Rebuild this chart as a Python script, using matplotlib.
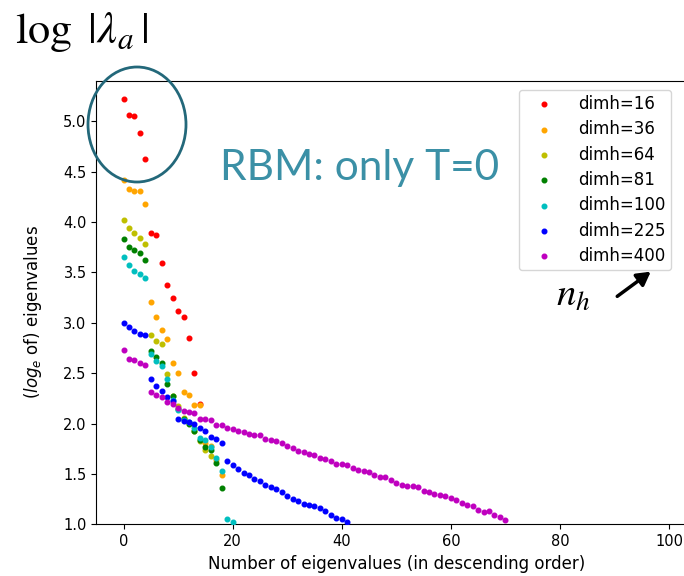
import numpy as np
import matplotlib
matplotlib.use("Agg")
import matplotlib.pyplot as plt
from matplotlib.patches import Ellipse, FancyArrowPatch

# eigenvalues (log_e), descending, one list per hidden-layer size
dimh_labels = ["dimh=16", "dimh=36", "dimh=64", "dimh=81", "dimh=100", "dimh=225", "dimh=400"]
colors = ["r", "orange", "y", "g", "c", "b", "m"]

ev16 = [5.22, 5.06, 5.05, 4.88, 4.63, 3.89, 3.87, 3.59, 3.38, 3.25, 3.12, 3.06, 2.85, 2.50, 2.19]
ev36 = [4.42, 4.33, 4.31, 4.31, 4.18, 3.21, 3.06, 2.93, 2.84, 2.60, 2.50, 2.31, 2.28, 2.18,
        2.18, 1.81, 1.78, 1.64, 1.49]
ev64 = [4.02, 3.94, 3.89, 3.84, 3.78, 2.88, 2.82, 2.79, 2.49, 2.27, 2.17, 2.06, 2.01, 1.93,
        1.83, 1.74, 1.68]
ev81 = [3.83, 3.75, 3.72, 3.69, 3.62, 2.72, 2.66, 2.60, 2.39, 2.27, 2.14, 2.05, 2.00, 1.93,
        1.84, 1.77, 1.74, 1.61, 1.36]
ev100 = [3.65, 3.57, 3.51, 3.48, 3.44, 2.69, 2.62, 2.57, 2.44, 2.23, 2.13, 2.04, 2.02, 1.96,
         1.86, 1.84, 1.77, 1.66, 1.53, 1.05, 1.02]
ev225 = [3.00, 2.96, 2.92, 2.89, 2.88, 2.44, 2.37, 2.32, 2.26, 2.22, 2.05, 2.03, 2.02, 2.00,
         1.96, 1.93, 1.87, 1.85, 1.81, 1.63, 1.59, 1.55, 1.51, 1.49, 1.45, 1.43, 1.39, 1.37,
         1.35, 1.32, 1.28, 1.25, 1.23, 1.20, 1.19, 1.18, 1.16, 1.13, 1.09, 1.06, 1.05, 1.02]
ev400 = [2.73, 2.64, 2.63, 2.60, 2.58, 2.31, 2.28, 2.26, 2.21, 2.19, 2.15, 2.12, 2.11, 2.10,
         2.05, 2.05, 2.04, 1.99, 1.99, 1.96, 1.95, 1.93, 1.92, 1.90, 1.89, 1.89, 1.85, 1.84,
         1.83, 1.81, 1.78, 1.76, 1.73, 1.72, 1.70, 1.69, 1.66, 1.65, 1.63, 1.60, 1.60, 1.59,
         1.56, 1.54, 1.53, 1.52, 1.49, 1.47, 1.47, 1.44, 1.41, 1.39, 1.38, 1.38, 1.37, 1.33,
         1.32, 1.30, 1.29, 1.28, 1.26, 1.24, 1.21, 1.19, 1.18, 1.14, 1.12, 1.13, 1.09, 1.07,
         1.04]
series = [ev16, ev36, ev64, ev81, ev100, ev225, ev400]

fig = plt.figure(figsize=(6.84, 5.76), dpi=100)
# axes run past the right edge (reference is cropped there)
ax = fig.add_axes([96.3 / 684, 51.7 / 576, 600 / 684, 443.3 / 576])

for ev, c, lab in zip(series, colors, dimh_labels):
    ax.scatter(np.arange(len(ev)), ev, s=11, color=c, label=lab, zorder=3)

ax.set_xlim(-5, 105)
ax.set_ylim(1.0, 5.4)
ax.set_xticks([0, 20, 40, 60, 80, 100])
ax.set_yticks(np.arange(1.0, 5.01, 0.5))
ax.tick_params(labelsize=10.5)
ax.set_xlabel("Number of eigenvalues (in descending order)", fontsize=12)
ax.set_ylabel("($log_e$ of) eigenvalues", fontsize=12)
ax.yaxis.set_label_coords(-0.087, 0.48)
ax.legend(loc="upper right", bbox_to_anchor=(0.958, 0.98), borderaxespad=0,
          fontsize=12, borderpad=0.3, handlelength=2.4, handletextpad=0.9,
          labelspacing=0.44)

# slide annotations
fig.text(15 / 684, 1 - 43 / 576, r"$\log\ |\lambda_a\,|$", fontsize=32,
         math_fontfamily="stix", va="baseline")
fig.text(220 / 684, 1 - 180 / 576, "RBM: only T=0", fontsize=30.5, family="Lato",
         color="#3B90A6", va="baseline")
fig.add_artist(Ellipse((137 / 684, 1 - 124.5 / 576), 98 / 684, 115 / 576,
                       transform=fig.transFigure, fill=False, ec="#23687A", lw=2))
fig.text(556 / 684, 1 - 306 / 576, r"$n_h$", fontsize=28,
         math_fontfamily="stix", va="baseline")
fig.add_artist(FancyArrowPatch((615 / 684, 1 - 298 / 576), (653 / 684, 1 - 270 / 576),
                               transform=fig.transFigure,
                               arrowstyle="-|>,head_length=8,head_width=4.5",
                               color="k", lw=2.5, zorder=10))

fig.savefig("out.png", dpi=100)
